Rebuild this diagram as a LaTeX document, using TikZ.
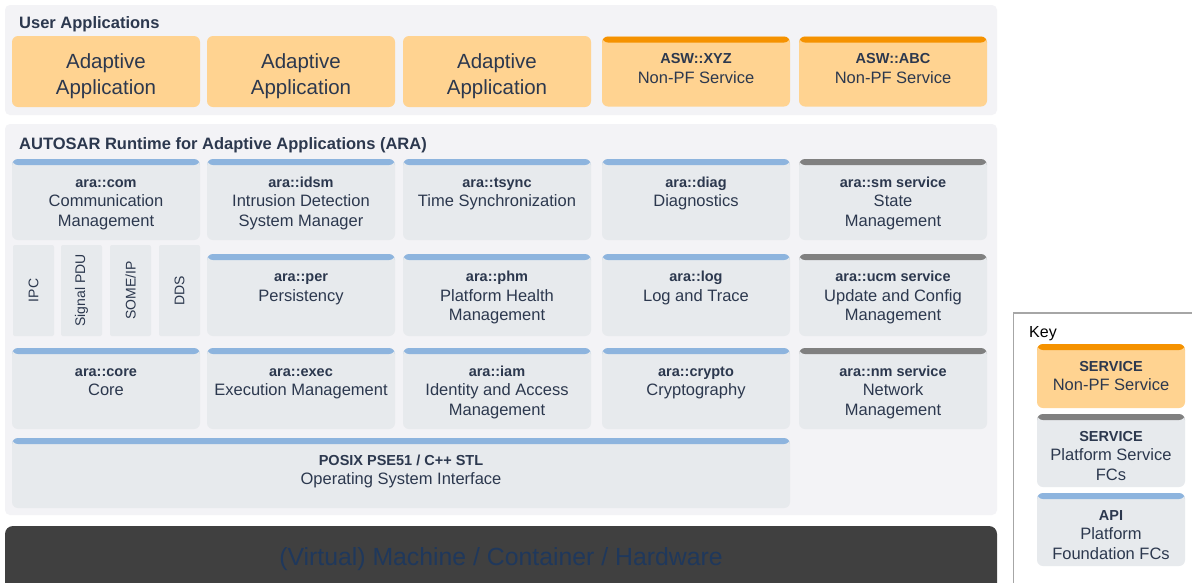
\documentclass[tikz,border=0pt]{standalone}
\usepackage{fontspec}
\setmainfont{Liberation Sans}
\definecolor{txt}{RGB}{44,56,78}
\definecolor{panelbg}{RGB}{243,243,246}
\definecolor{boxgray}{RGB}{231,234,237}
\definecolor{orfill}{RGB}{255,211,145}
\definecolor{orstrip}{RGB}{245,146,0}
\definecolor{bluestrip}{RGB}{141,180,222}
\definecolor{graystrip}{RGB}{128,128,128}
\definecolor{machine}{RGB}{64,64,64}
\definecolor{machtxt}{RGB}{31,56,92}
\definecolor{keyline}{RGB}{166,166,166}
\newcommand\fchead[1]{\rule{0pt}{14pt}{\bfseries\fontsize{14.5}{19.5}\selectfont #1}}
\tikzset{
  panel/.style={fill=panelbg, rounded corners=5pt},
  fcbox/.style={rectangle, rounded corners=6pt, fill=boxgray, minimum width=188pt, minimum height=81pt, inner sep=0pt, draw=none},
  orbox/.style={fcbox, fill=orfill},
  strip/.style={path picture={\fill[#1] (path picture bounding box.north west) rectangle ([yshift=-6pt]path picture bounding box.north east);}},
  lbl/.style={anchor=north, inner sep=0pt, align=center, text=txt, font=\fontsize{16.5}{19.5}\selectfont},
  biglbl/.style={anchor=north, inner sep=0pt, align=center, text=txt, font=\fontsize{20.5}{26}\selectfont},
  vbox/.style={rectangle, rounded corners=2pt, fill=boxgray, minimum width=41pt, minimum height=91pt, inner sep=0pt},
  vlbl/.style={rotate=90, inner sep=0pt, text=txt, font=\fontsize{14}{16}\selectfont},
  title/.style={anchor=base west, inner sep=0pt, text=txt, font=\bfseries\fontsize{16.5}{19.5}\selectfont},
}
\begin{document}
\begin{tikzpicture}[x=1pt, y=-1pt]
\useasboundingbox (0,0) rectangle (1192,582);
\fill[white] (0,0) rectangle (1192,582);
% panels
\fill[panel] (5,5) rectangle (997,115);
\fill[panel] (5,124) rectangle (997,515);
\node[title] (tUA) at (19,28.3) {User Applications};
\node[title] (tARA) at (19,149.3) {AUTOSAR Runtime for Adaptive Applications (ARA)};
% user applications
\node[orbox, minimum height=71pt] (aa1) at (106,71.5) {};
\node[orbox, minimum height=71pt] (aa2) at (301,71.5) {};
\node[orbox, minimum height=71pt] (aa3) at (497,71.5) {};
\node[biglbl] (aa1t) at ([yshift=-15pt]aa1.north) {\rule{0pt}{17pt}Adaptive\\Application};
\node[biglbl] (aa2t) at ([yshift=-15pt]aa2.north) {\rule{0pt}{17pt}Adaptive\\Application};
\node[biglbl] (aa3t) at ([yshift=-15pt]aa3.north) {\rule{0pt}{17pt}Adaptive\\Application};
\node[orbox, minimum height=70pt, strip=orstrip] (xyz) at (696,71.5) {};
\node[orbox, minimum height=70pt, strip=orstrip] (abc) at (893,71.5) {};
\node[lbl] (xyzt) at ([yshift=-13pt]xyz.north) {\fchead{ASW::XYZ}\\Non-PF Service};
\node[lbl] (abct) at ([yshift=-13pt]abc.north) {\fchead{ASW::ABC}\\Non-PF Service};
% row 1
\node[fcbox, strip=bluestrip] (com) at (106,199.5) {};
\node[fcbox, strip=bluestrip] (idsm) at (301,199.5) {};
\node[fcbox, strip=bluestrip] (tsync) at (497,199.5) {};
\node[fcbox, strip=bluestrip] (diag) at (696,199.5) {};
\node[fcbox, strip=graystrip] (sm) at (893,199.5) {};
\node[lbl] (comt) at ([yshift=-14pt]com.north) {\fchead{ara::com}\\Communication\\Management};
\node[lbl] (idsmt) at ([yshift=-14pt]idsm.north) {\fchead{ara::idsm}\\Intrusion Detection\\System Manager};
\node[lbl] (tsynct) at ([yshift=-14pt]tsync.north) {\fchead{ara::tsync}\\Time Synchronization};
\node[lbl] (diagt) at ([yshift=-14pt]diag.north) {\fchead{ara::diag}\\Diagnostics};
\node[lbl] (smt) at ([yshift=-14pt]sm.north) {\fchead{ara::sm service}\\State\\Management};
% row 2
\node[vbox] (ipc) at (33.5,290.5) {};
\node[vbox] (spdu) at (81.5,290.5) {};
\node[vbox] (someip) at (130.5,290.5) {};
\node[vbox] (dds) at (179.5,290.5) {};
\node[vlbl] (ipct) at (ipc.center) {IPC};
\node[vlbl] (spdut) at (spdu.center) {Signal PDU};
\node[vlbl] (someipt) at (someip.center) {SOME/IP};
\node[vlbl] (ddst) at (dds.center) {DDS};
\node[fcbox, minimum height=82pt, strip=bluestrip] (per) at (301,295) {};
\node[fcbox, minimum height=82pt, strip=bluestrip] (phm) at (497,295) {};
\node[fcbox, minimum height=82pt, strip=bluestrip] (log) at (696,295) {};
\node[fcbox, minimum height=82pt, strip=graystrip] (ucm) at (893,295) {};
\node[lbl] (pert) at ([yshift=-13.5pt]per.north) {\fchead{ara::per}\\Persistency};
\node[lbl] (phmt) at ([yshift=-13.5pt]phm.north) {\fchead{ara::phm}\\Platform Health\\Management};
\node[lbl] (logt) at ([yshift=-13.5pt]log.north) {\fchead{ara::log}\\Log and Trace};
\node[lbl] (ucmt) at ([yshift=-13.5pt]ucm.north) {\fchead{ara::ucm service}\\Update and Config\\Management};
% row 3
\node[fcbox, strip=bluestrip] (core) at (106,388.5) {};
\node[fcbox, strip=bluestrip] (exec) at (301,388.5) {};
\node[fcbox, strip=bluestrip] (iam) at (497,388.5) {};
\node[fcbox, strip=bluestrip] (crypto) at (696,388.5) {};
\node[fcbox, strip=graystrip] (nm) at (893,388.5) {};
\node[lbl] (coret) at ([yshift=-14pt]core.north) {\fchead{ara::core}\\Core};
\node[lbl] (exect) at ([yshift=-14pt]exec.north) {\fchead{ara::exec}\\Execution Management};
\node[lbl] (iamt) at ([yshift=-14pt]iam.north) {\fchead{ara::iam}\\Identity and Access\\Management};
\node[lbl] (cryptot) at ([yshift=-14pt]crypto.north) {\fchead{ara::crypto}\\Cryptography};
\node[lbl] (nmt) at ([yshift=-14pt]nm.north) {\fchead{ara::nm service}\\Network\\Management};
% posix
\node[fcbox, minimum width=778pt, minimum height=70pt, strip=bluestrip] (posix) at (401,473) {};
\node[lbl] (posixt) at ([yshift=-13pt]posix.north) {\fchead{POSIX PSE51 / C++ STL}\\Operating System Interface};
% machine
\fill[machine, rounded corners=8pt] (5,526) rectangle (997,600);
\node[anchor=base, inner sep=0pt, text=machtxt, font=\fontsize{24.8}{28}\selectfont] (mach) at (501,565) {(Virtual) Machine / Container / Hardware};
% key
\draw[keyline, line width=1.5pt] (1200,313) -- (1013.5,313) -- (1013.5,600);
\node[anchor=base west, inner sep=0pt, font=\fontsize{16}{19}\selectfont] (key) at (1029,337.5) {Key};
\node[orbox, minimum width=148pt, minimum height=64pt, strip=orstrip] (k1) at (1111,376) {};
\node[fcbox, minimum width=148pt, minimum height=73pt, strip=graystrip] (k2) at (1111,450.5) {};
\node[fcbox, minimum width=148pt, minimum height=73pt, strip=bluestrip] (k3) at (1111,529.5) {};
\node[lbl] (k1t) at ([yshift=-13pt]k1.north) {\fchead{SERVICE}\\Non-PF Service};
\node[lbl] (k2t) at ([yshift=-13pt]k2.north) {\fchead{SERVICE}\\Platform Service\\FCs};
\node[lbl] (k3t) at ([yshift=-13pt]k3.north) {\fchead{API}\\Platform\\Foundation FCs};
\end{tikzpicture}
\end{document}
